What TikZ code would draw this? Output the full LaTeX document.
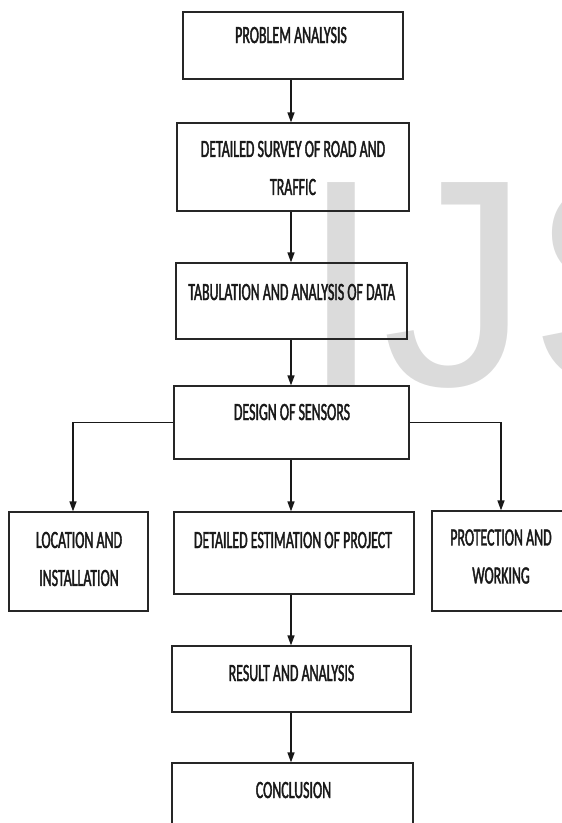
\documentclass[tikz,border=0pt]{standalone}
\usepackage{fontspec}
\newfontfamily\labfont[FakeStretch=0.56,FakeBold=1.6]{Carlito}
\newfontfamily\wmfont{Liberation Sans}
\usetikzlibrary{arrows.meta}
\begin{document}
\begin{tikzpicture}[x=1pt,y=-1pt,
  box/.style={draw=black!85, line width=1.2pt, rectangle, inner sep=0pt},
  lab/.style={inner sep=0pt, align=center, font=\labfont\fontsize{24.8}{38}\selectfont, text=black!90},
  arr/.style={line width=1.5pt, draw=black!90, -{Triangle[length=10pt,width=7pt]}},
]
\useasboundingbox (0,0) rectangle (562,823);
\clip (0,0) rectangle (562,823);
% watermark
\node[anchor=base west, inner sep=0pt, text=black!14, font=\wmfont\fontsize{295}{295}\selectfont] (wm) at (300,385) {IJS};
% boxes
\node[box, minimum width=220pt, minimum height=67pt] (b1) at (293,45.5) {};
\node[box, minimum width=232pt, minimum height=88pt] (b2) at (293,167) {};
\node[box, minimum width=231pt, minimum height=76pt] (b3) at (291.5,301) {};
\node[box, minimum width=235pt, minimum height=73pt] (b4) at (291.5,422.5) {};
\node[box, minimum width=139pt, minimum height=99pt] (loc) at (78.5,561.5) {};
\node[box, minimum width=240pt, minimum height=82pt] (est) at (294,553) {};
\node[box, minimum width=138pt, minimum height=100pt] (pro) at (501,561) {};
\node[box, minimum width=239pt, minimum height=66pt] (res) at (291.5,679) {};
\node[box, minimum width=241pt, minimum height=70pt] (con) at (292.5,798) {};
% texts
\node[lab, anchor=base] (t1) at (291,43) {PROBLEM ANALYSIS};
\node[lab] (t2) at (293,168) {DETAILED SURVEY OF ROAD AND\\TRAFFIC};
\node[lab, anchor=base] (t3) at (291.7,300) {TABULATION AND ANALYSIS OF DATA};
\node[lab, anchor=base] (t4) at (292,420) {DESIGN OF SENSORS};
\node[lab] (tl) at (79,559) {LOCATION AND\\INSTALLATION};
\node[lab, anchor=base] (te) at (293,548) {DETAILED ESTIMATION OF PROJECT};
\node[lab] (tp) at (501,556.5) {PROTECTION AND\\WORKING};
\node[lab, anchor=base] (tr) at (291.5,681) {RESULT AND ANALYSIS};
\node[lab, anchor=base] (tc) at (293.5,798) {CONCLUSION};
% connectors
\coordinate (ax) at (291,0);
\coordinate (lx) at (73,0);
\draw[arr] (b1.south -| ax) -- (b2.north -| ax);
\draw[arr] (b2.south -| ax) -- (b3.north -| ax);
\draw[arr] (b3.south -| ax) -- (b4.north -| ax);
\draw[arr] (b4.south -| ax) -- (est.north -| ax);
\draw[arr] (est.south -| ax) -- (res.north -| ax);
\draw[arr] (res.south -| ax) -- (con.north -| ax);
\draw[arr] (b4.west) -| (loc.north -| lx);
\draw[arr] (b4.east) -| (pro.north);
\end{tikzpicture}
\end{document}
